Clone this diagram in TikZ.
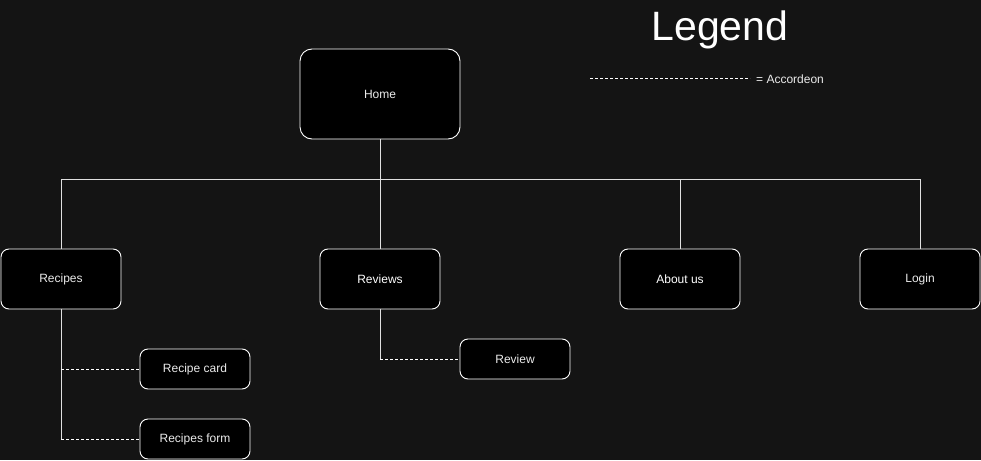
\documentclass[tikz,border=0pt]{standalone}
\usepackage{fontspec}
\setmainfont{Liberation Sans}
\begin{document}
\begin{tikzpicture}[x=1pt,y=-1pt,
  box/.style={draw=white,fill=black,rounded corners=8pt,line width=0.9pt,text=white!92!black,font=\fontsize{12}{14}\selectfont,inner sep=0pt},
  conn/.style={draw=white!88!black,line width=0.9pt},
  acc/.style={draw=white,line width=0.9pt,dash pattern=on 3pt off 2pt}]
\fill[fill=black!92!white] (0,0) rectangle (981,460);
\useasboundingbox (0,0) rectangle (981,460);
\node[box,minimum width=160pt,minimum height=90pt,rounded corners=12pt] (home) at (380,94) {Home};
\node[box,minimum width=120pt,minimum height=60pt] (recipes) at (61,279) {Recipes};
\node[box,minimum width=120pt,minimum height=60pt,text=white] (reviews) at (380,279) {Reviews};
\node[box,minimum width=120pt,minimum height=60pt,text=white] (about) at (680,279) {About us};
\node[box,minimum width=120pt,minimum height=60pt] (login) at (920,279) {Login};
\node[box,minimum width=110pt,minimum height=40pt] (card) at (195,369) {Recipe card};
\node[box,minimum width=110pt,minimum height=40pt] (form) at (195,439) {Recipes form};
\node[box,minimum width=110pt,minimum height=40pt] (review) at (515,359) {Review};
\coordinate (bus) at (380,179);
\coordinate (busL) at (61,179);
\coordinate (busR) at (920,179);
\draw[conn] (home.south) -- (bus);
\draw[conn] (busL) -- (busR);
\draw[conn] (bus) -- (reviews.north);
\draw[conn] (busL) -- (recipes.north);
\draw[conn] (about.north |- bus) -- (about.north);
\draw[conn] (busR) -- (login.north);
\coordinate (rc) at (61,369);
\coordinate (rf) at (61,439);
\coordinate (rv) at (380,359);
\draw[conn] (recipes.south) -- (rf);
\draw[acc] (rc) -- (card.west);
\draw[acc] (rf) -- (form.west);
\draw[conn] (reviews.south) -- (rv);
\draw[acc] (rv) -- (review.west);
\node[text=white,font=\fontsize{41}{45}\selectfont,inner sep=0pt] (legend) at (720,30) {Legend};
\coordinate (la) at (590,78);
\coordinate (lb) at (750,78);
\draw[acc,line width=0.7pt] (la) -- (lb);
\node[anchor=west,text=white!92!black,font=\fontsize{12}{14}\selectfont,inner sep=0pt] (acclabel) at (756,79) {= Accordeon};
\end{tikzpicture}
\end{document}
